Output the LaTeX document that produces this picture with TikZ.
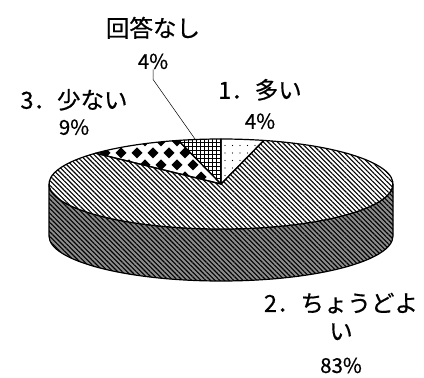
\documentclass[tikz,border=0pt]{standalone}
\usepackage{fontspec}
\setmainfont{Noto Sans CJK JP}[FakeBold=0.6]
\usepackage{tikz}
\usetikzlibrary{patterns.meta, positioning}
\definecolor{sidegray}{RGB}{140,140,140}
\tikzset{
    slice/.style={draw, line width=1.2bp, line join=round},
    stripes/.style={pattern={Lines[angle=-45, distance=3.3bp, line width=1.1bp]}},
    lbl/.style={align=center, inner sep=0pt, font=\fontsize{23.5bp}{30bp}\selectfont},
    leader/.style={-, line width=0.5bp}
}
\newcommand{\pct}[1]{{\fontsize{20.5bp}{20.5bp}\selectfont #1}}

\begin{document}
\begin{tikzpicture}[x=1bp, y=1bp]
    \useasboundingbox (0,0) rectangle (424,378);
    \coordinate (ctr) at (221,194);
    \coordinate (tipnone) at (195,239);

    % Side of the pie
    \draw[slice, stripes, preaction={fill=sidegray}] (49,194) -- ++(0,-52)
        arc[start angle=180, end angle=360, x radius=172, y radius=45] -- ++(0,52)
        arc[start angle=0, end angle=-180, x radius=172, y radius=45] -- cycle;

    % Slices on top
    \draw[slice, stripes, preaction={fill=white}] (ctr) -- ++(75.6:172 and 45)
        arc[start angle=75.6, end angle=-223.2, x radius=172, y radius=45] -- cycle;
    \draw[slice, fill=white, pattern={Dots[distance=7.5bp, radius=0.7bp]}] (ctr) -- ++(90:172 and 45)
        arc[start angle=90, end angle=75.6, x radius=172, y radius=45] -- cycle;
    \draw[slice, fill=white, pattern={Hatch[angle=0, distance=4bp, line width=0.9bp]}] (ctr) -- ++(104.4:172 and 45)
        arc[start angle=104.4, end angle=90, x radius=172, y radius=45] -- cycle;
    \begin{scope}
        \clip (ctr) -- ++(136.8:172 and 45)
            arc[start angle=136.8, end angle=104.4, x radius=172, y radius=45] -- cycle;
        \foreach \j in {0,...,6}
            \foreach \i in {0,...,7}
                \fill ({89+16*\i+8*mod(\j,2)},{201+12*\j}) +(-5.5,0) -- +(0,5.5) -- +(5.5,0) -- +(0,-5.5) -- cycle;
    \end{scope}
    \draw[slice] (ctr) -- ++(136.8:172 and 45)
        arc[start angle=136.8, end angle=104.4, x radius=172, y radius=45] -- cycle;

    % Labels
    \node[lbl] (none) at (153,335) {回答なし\\[2bp]\pct{4\%}};
    \node[lbl] (few) at (74,266) {3．少ない\\[-4bp]\pct{9\%}};
    \node[lbl] (many) at (260,274) {1．多い\\[0bp]\pct{4\%}};
    \node[lbl] (fine) at (341,45) {2．ちょうどよ\\[-2bp]い\\[3bp]\pct{83\%}};

    % Leader line
    \draw[leader] (none.south) -- ++(0,-10) -- (tipnone);
\end{tikzpicture}
\end{document}
